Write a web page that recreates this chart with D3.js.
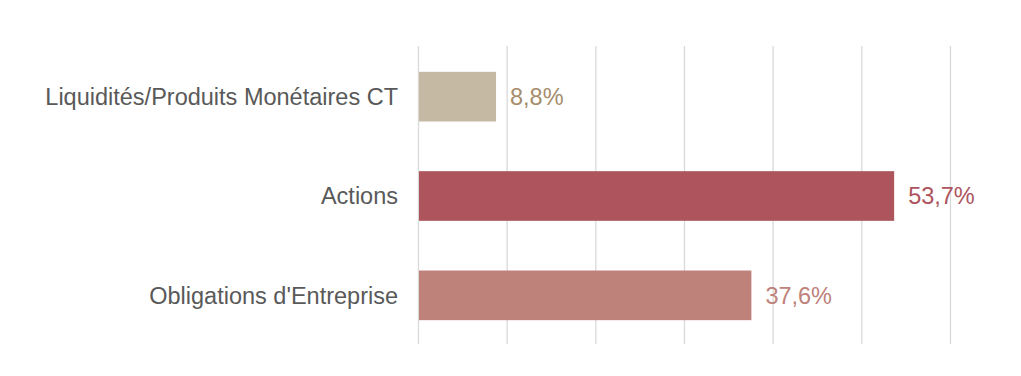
<!DOCTYPE html>
<html>
<head>
<meta charset="utf-8">
<script src="https://cdn.jsdelivr.net/npm/d3@7"></script>
<style>
  body { margin: 0; background: #fff; }
  svg { display: block; font-family: "Liberation Sans", Arial, sans-serif; }
</style>
</head>
<body>
<script>
const categories = ['Liquidités/Produits Monétaires CT', 'Actions', "Obligations d'Entreprise"]
const values = [8.8, 53.7, 37.6]
const value_labels = ['8,8%', '53,7%', '37,6%']
const bar_colors = ['#c5b9a3', '#ad545d', '#be827b']
const label_colors = ['#a68d6b', '#ad545d', '#be827b']
const grid_ticks = [0, 10, 20, 30, 40, 50, 60]

const width = 1021, height = 376

const x = d3.scaleLinear().domain([0, 60]).range([418, 950])
const y = d3.scaleBand().domain(categories).range([47, 345]).paddingInner(0.5).paddingOuter(0.25)

const svg = d3.select('body')
  .append('svg')
  .attr('width', width)
  .attr('height', height)

// vertical grid lines
svg.selectAll('line.grid')
  .data(grid_ticks)
  .enter()
  .append('line')
  .attr('class', 'grid')
  .attr('x1', d => x(d) + 0.5)
  .attr('x2', d => x(d) + 0.5)
  .attr('y1', 46)
  .attr('y2', 344)
  .attr('stroke', '#d9d9d9')
  .attr('stroke-width', 1.3)

svg.selectAll('rect.bar')
  .data(values)
  .enter()
  .append('rect')
  .attr('class', 'bar')
  .attr('x', x(0) + 1)
  .attr('y', (d, i) => y(categories[i]))
  .attr('width', d => x(d) - x(0) - 1)
  .attr('height', y.bandwidth())
  .attr('fill', (d, i) => bar_colors[i])

svg.selectAll('text.value')
  .data(values)
  .enter()
  .append('text')
  .attr('class', 'value')
  .attr('x', d => x(d) + 14)
  .attr('y', (d, i) => y(categories[i]) + y.bandwidth() / 2)
  .attr('dy', '0.35em')
  .attr('font-size', '23.5px')
  .attr('fill', (d, i) => label_colors[i])
  .text((d, i) => value_labels[i])

svg.selectAll('text.cat')
  .data(categories)
  .enter()
  .append('text')
  .attr('class', 'cat')
  .attr('x', 398)
  .attr('y', d => y(d) + y.bandwidth() / 2)
  .attr('dy', '0.35em')
  .attr('text-anchor', 'end')
  .attr('font-size', '23.5px')
  .attr('fill', '#595959')
  .text(d => d)
</script>
</body>
</html>
